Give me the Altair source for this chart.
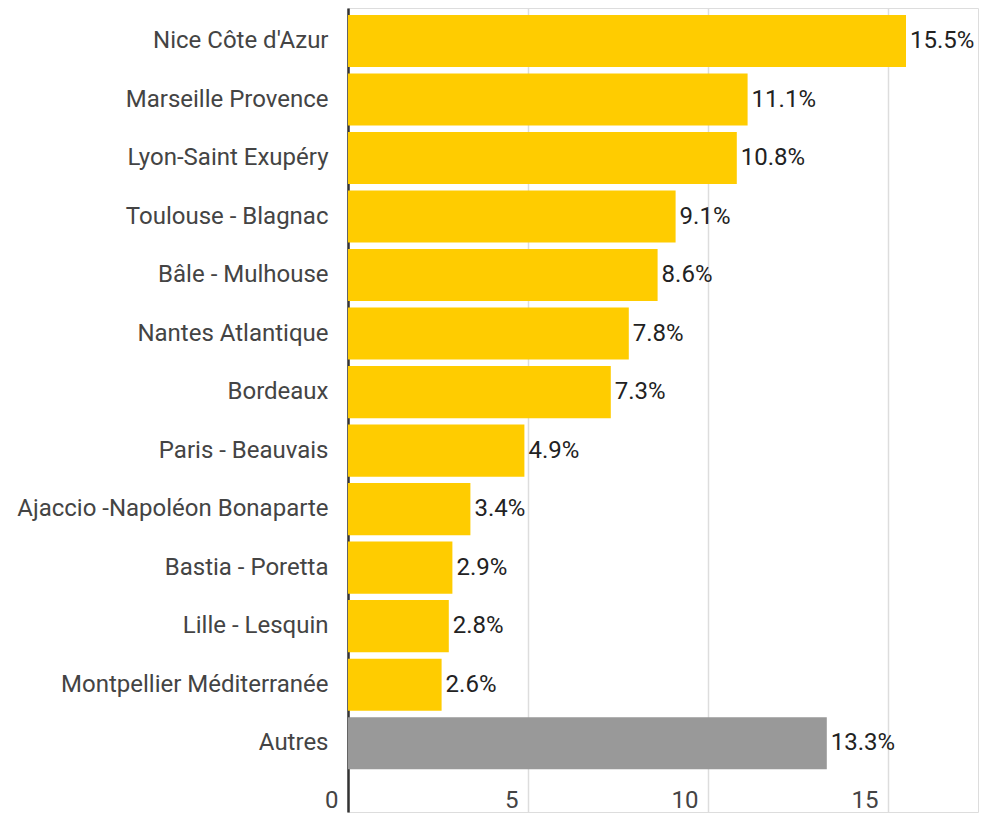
import altair as alt
import pandas as pd

airports = ["Nice Côte d'Azur", "Marseille Provence", "Lyon-Saint Exupéry", "Toulouse - Blagnac",
            "Bâle - Mulhouse", "Nantes Atlantique", "Bordeaux", "Paris - Beauvais",
            "Ajaccio -Napoléon Bonaparte", "Bastia - Poretta", "Lille - Lesquin",
            "Montpellier Méditerranée", "Autres"]
shares = [15.5, 11.1, 10.8, 9.1, 8.6, 7.8, 7.3, 4.9, 3.4, 2.9, 2.8, 2.6, 13.3]
groups = ["main"] * 12 + ["other"]

df = pd.DataFrame({"airport": airports, "share": shares, "group": groups})
df["label"] = df["share"].map(lambda v: f"{v:.1f}%")

FONT = "Roboto"
FS = 24

y = alt.Y("airport:N", sort=airports, title=None,
          scale=alt.Scale(paddingInner=0.11, paddingOuter=0.425, align=0.14),
          axis=alt.Axis(domain=True, domainColor="#333333", domainWidth=2.5, ticks=False,
                        labelPadding=20, labelFontSize=FS, labelColor="#444444",
                        labelFont=FONT, labelLimit=0, grid=False))
x = alt.X("share:Q", title=None,
          scale=alt.Scale(domain=[0, 17.5], nice=False, zero=True),
          axis=alt.Axis(values=[0, 5, 10, 15], domain=False, ticks=False, grid=True,
                        gridColor="#dddddd", gridWidth=1.5, offset=-27, labelPadding=3,
                        labelAlign="right", labelOffset=-10, labelFontSize=FS,
                        labelColor="#444444", labelFont=FONT, labelBaseline="top"))

bars = alt.Chart(df).mark_bar().encode(
    x=x, y=y,
    color=alt.Color("group:N", legend=None,
                    scale=alt.Scale(domain=["main", "other"], range=["#FFCC00", "#999999"])),
)
text = alt.Chart(df).mark_text(align="left", baseline="middle", dx=4, fontSize=FS,
                               font=FONT, color="#222222").encode(
    x="share:Q", y=alt.Y("airport:N", sort=airports), text="label:N")

chart = (bars + text).properties(
    width=630, height=804,
    autosize=alt.AutoSizeParams(type="none"),
    padding={"left": 348, "top": 8, "right": 4, "bottom": 2},
).configure_view(stroke=None).configure(background="white")

chart.save("out.html", embed_options={"renderer": "svg", "actions": False})
